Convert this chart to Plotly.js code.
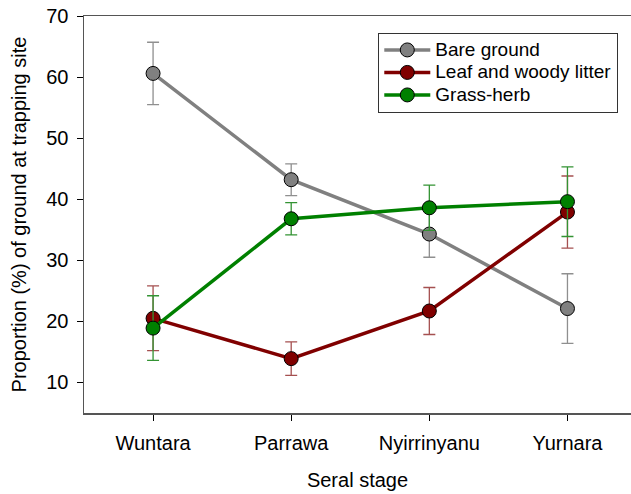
<!DOCTYPE html>
<html>
<head>
<meta charset="utf-8">
<script src="https://cdn.plot.ly/plotly-3.0.1.min.js"></script>
<style>
html,body{margin:0;padding:0;overflow:hidden;background:#fff;}
#chart{width:631px;height:494px;}
</style>
</head>
<body>
<div id="chart"></div>
<script>
var stages = ["Wuntara", "Parrawa", "Nyirrinyanu", "Yurnara"];
var bareGround = [60.6, 43.2, 34.3, 22.1];
var bareGroundErr = [5.1, 2.6, 3.8, 5.7];
var leafLitter = [20.5, 13.9, 21.7, 37.9];
var leafLitterErr = [5.3, 2.75, 3.85, 5.9];
var grassHerb = [18.9, 36.8, 38.6, 39.6];
var grassHerbErr = [5.3, 2.65, 3.7, 5.7];
var seriesNames = ["Bare ground", "Leaf and woody litter", "Grass-herb"];
var yTicks = [10, 20, 30, 40, 50, 60, 70];

function mk(name, y, err, lineColor, errColor) {
  return {
    type: "scatter",
    mode: "lines+markers",
    name: '<span style="font-size:19px">' + name + '</span>',
    x: [0, 1, 2, 3],
    y: y,
    line: {color: lineColor, width: 3.5},
    marker: {color: lineColor, size: 14, line: {color: "#000", width: 1}},
    error_y: {type: "data", array: err, visible: true, color: errColor, thickness: 1.3, width: 6}
  };
}

var data = [
  mk(seriesNames[0], bareGround, bareGroundErr, "#808080", "#8f8f8f"),
  mk(seriesNames[1], leafLitter, leafLitterErr, "#800000", "#a55050"),
  mk(seriesNames[2], grassHerb, grassHerbErr, "#008000", "#339333")
];

var layout = {
  width: 631,
  height: 494,
  margin: {l: 84, r: 0, t: 16, b: 81},
  paper_bgcolor: "#fff",
  plot_bgcolor: "#fff",
  font: {family: "Arial, 'Liberation Sans', sans-serif", size: 20, color: "#000"},
  showlegend: true,
  legend: {
    x: 0.538, y: 0.958, xanchor: "left", yanchor: "top",
    bordercolor: "#333", borderwidth: 1, bgcolor: "#fff",
    font: {size: 15, family: "Arial, 'Liberation Sans', sans-serif"},
    tracegroupgap: 0, itemwidth: 46
  },
  xaxis: {
    range: [-0.5, 3.46],
    tickvals: [0, 1, 2, 3],
    ticktext: stages,
    ticks: "outside", ticklen: 6, tickcolor: "#000", tickwidth: 1,
    ticklabelstandoff: 5,
    showline: true, linecolor: "#555", linewidth: 1.5, mirror: true,
    showgrid: false, zeroline: false,
    tickfont: {size: 20},
    title: {text: "Seral stage", font: {size: 20}, standoff: 20}
  },
  yaxis: {
    range: [5, 70],
    tickvals: yTicks,
    ticks: "outside", ticklen: 6, tickcolor: "#000", tickwidth: 1,
    ticklabelstandoff: 4,
    showline: true, linecolor: "#555", linewidth: 1.5,
    showgrid: false, zeroline: false,
    tickfont: {size: 20},
    title: {text: "Proportion (%) of ground at trapping site", font: {size: 20}, standoff: 14}
  }
};

Plotly.newPlot("chart", data, layout, {displayModeBar: false, staticPlot: true});
</script>
</body>
</html>
